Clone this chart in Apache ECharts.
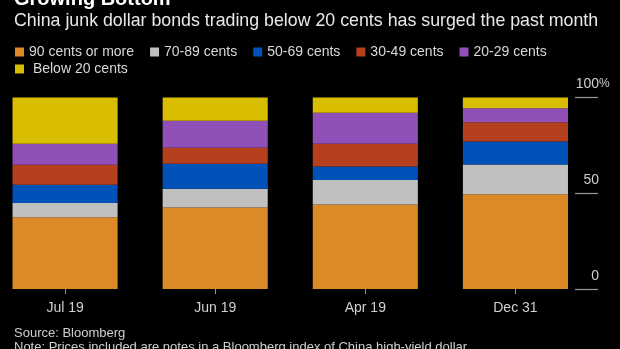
<!DOCTYPE html>
<html><head><meta charset="utf-8">
<script src="https://cdn.jsdelivr.net/npm/echarts@6/dist/echarts.min.js"></script>
<style>html,body{margin:0;padding:0;background:#000;overflow:hidden;width:620px;height:349px;position:relative;}#c{position:absolute;left:-10px;top:0;width:630px;height:349px;}</style>
</head><body><div id="c"></div>
<script>
var categories = ['Jul 19', 'Jun 19', 'Apr 19', 'Dec 31'];
var seriesNames = ['90 cents or more', '70-89 cents', '50-69 cents', '30-49 cents', '20-29 cents', 'Below 20 cents'];
var s90plus = [37.5, 42.5, 44.1, 49.5];
var s70to89 = [7.4, 9.9, 12.8, 15.5];
var s50to69 = [9.6, 13.0, 7.1, 12.0];
var s30to49 = [10.4, 8.3, 11.8, 10.1];
var s20to29 = [10.9, 14.1, 16.3, 7.3];
var sBelow20 = [24.2, 12.2, 7.9, 5.6];
var yTicks = [0, 50, 100];
var colors = ['#DB8A27', '#C0C0C0', '#0052B8', '#B4401E', '#9150B8', '#D8BD00'];
var values = [s90plus, s70to89, s50to69, s30to49, s20to29, sBelow20];

var FONT = 'Liberation Sans';
var X0 = 10; // chart container is shifted 10px to the left of the page
var chart = echarts.init(document.getElementById('c'), null, {renderer: 'canvas'});
var series = seriesNames.map(function (n, i) {
  return {
    name: n, type: 'bar', stack: 'total', data: values[i],
    barCategoryGap: '30%',
    itemStyle: {color: colors[i]},
    emphasis: {disabled: true}
  };
});
chart.setOption({
  backgroundColor: '#000',
  animation: false,
  textStyle: {fontFamily: FONT},
  title: [
    {text: 'Growing Bottom', left: X0 + 14, top: -11, padding: 0, textStyle: {color: '#fff', fontSize: 20, fontWeight: 'bold', fontFamily: FONT}},
    {text: 'China junk dollar bonds trading below 20 cents has surged the past month', left: X0 + 14, top: 12, padding: 0,
     textStyle: {color: '#e8e8e8', fontSize: 17.8, fontWeight: 'normal', fontFamily: FONT}},
    {text: 'Source: Bloomberg', left: X0 + 14, top: 327, padding: 0, textStyle: {color: '#cfcfcf', fontSize: 13, fontWeight: 'normal', fontFamily: FONT}},
    {text: 'Note: Prices included are notes in a Bloomberg index of China high-yield dollar', left: X0 + 14, top: 341, padding: 0,
     textStyle: {color: '#cfcfcf', fontSize: 13, fontWeight: 'normal', fontFamily: FONT}}
  ],
  legend: [
    {data: seriesNames.slice(0, 5), left: X0 + 10, top: 40, itemWidth: 9, itemHeight: 9, itemGap: 16, icon: 'rect',
     selectedMode: false, textStyle: {color: '#d8d8d8', fontSize: 14, fontFamily: FONT}},
    {data: seriesNames.slice(5), left: X0 + 10, top: 57, itemWidth: 9, itemHeight: 9, icon: 'rect',
     selectedMode: false, formatter: function (n) { return ' ' + n; },
     textStyle: {color: '#d8d8d8', fontSize: 14, fontFamily: FONT}}
  ],
  grid: {left: 0, right: 29.5, top: 97.5, bottom: 60, containLabel: false},
  xAxis: {
    type: 'category', data: categories,
    axisLine: {show: false},
    axisTick: {show: true, alignWithLabel: true, length: 5, lineStyle: {color: '#999', width: 1}},
    axisLabel: {color: '#d0d0d0', fontSize: 14, margin: 12, fontFamily: FONT}
  },
  yAxis: {
    type: 'value', min: 0, max: 100, interval: 50, position: 'right', offset: 7.5,
    axisLine: {show: false},
    splitLine: {show: false},
    axisTick: {show: true, inside: true, length: 23, lineStyle: {color: '#999', width: 1.2}},
    axisLabel: {color: '#d0d0d0', fontSize: 14, margin: 1, align: 'right', verticalAlign: 'bottom',
      padding: [0, 0, 6, 0], fontFamily: FONT,
      formatter: function (v) { return yTicks.indexOf(v) >= 0 ? String(v) : ''; }}
  },
  graphic: [
    {type: 'text', left: X0 + 599, top: 78, style: {text: '%', fill: '#d0d0d0', font: '12px ' + FONT}}
  ],
  series: series
});
</script>
</body></html>
